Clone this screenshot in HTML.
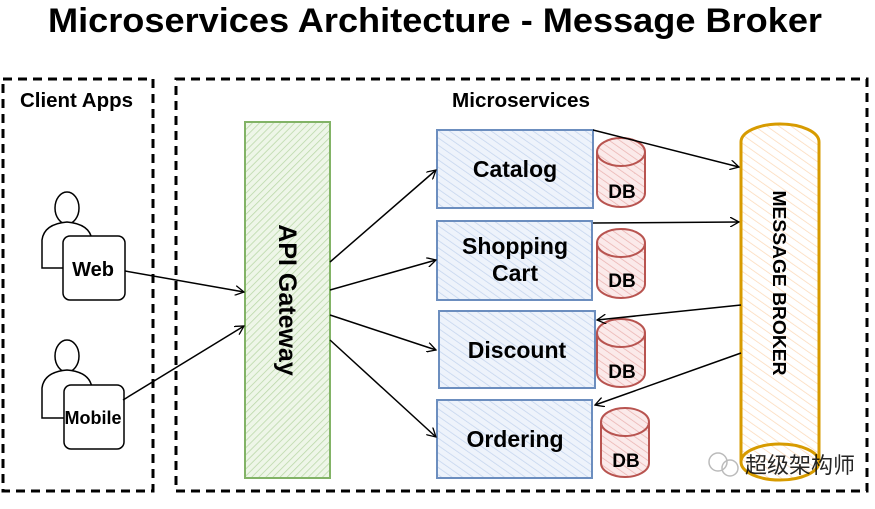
<!DOCTYPE html>
<html><head><meta charset="utf-8"><style>
body{margin:0;background:#fff;width:875px;height:504px;overflow:hidden}
text{font-family:"Liberation Sans",Arial,sans-serif;font-weight:bold;fill:#000}
</style></head><body>
<svg width="875" height="504" viewBox="0 0 875 504" xmlns="http://www.w3.org/2000/svg">
<defs>
<pattern id="hg" patternUnits="userSpaceOnUse" width="5" height="5" patternTransform="rotate(45)"><rect width="5" height="5" fill="#eef6e8"/><line x1="0" y1="0" x2="0" y2="5" stroke="#b9d7a6" stroke-width="1.5"/></pattern>
<pattern id="hb" patternUnits="userSpaceOnUse" width="6" height="6" patternTransform="rotate(-55)"><rect width="6" height="6" fill="#eef3fb"/><line x1="0" y1="0" x2="0" y2="6" stroke="#c3d4ee" stroke-width="1.5"/></pattern>
<pattern id="hr" patternUnits="userSpaceOnUse" width="6" height="6" patternTransform="rotate(-55)"><rect width="6" height="6" fill="#fbeaea"/><line x1="0" y1="0" x2="0" y2="6" stroke="#eab2b0" stroke-width="1.5"/></pattern>
<pattern id="ho" patternUnits="userSpaceOnUse" width="7" height="7" patternTransform="rotate(-55)"><rect width="7" height="7" fill="#fff"/><line x1="0" y1="0" x2="0" y2="7" stroke="#fcd9b8" stroke-width="1.5"/></pattern>
<marker id="ar" markerWidth="10" markerHeight="10" refX="9" refY="5" orient="auto" markerUnits="userSpaceOnUse"><path d="M0,0 L9,5 L0,10" fill="none" stroke="#000" stroke-width="1.3"/></marker>
</defs>
<text x="48" y="32" font-size="34" textLength="774" lengthAdjust="spacingAndGlyphs">Microservices Architecture - Message Broker</text>
<rect x="3" y="79" width="150" height="412" fill="none" stroke="#000" stroke-width="3" stroke-dasharray="9,6"/>
<rect x="176" y="79" width="691" height="412" fill="none" stroke="#000" stroke-width="3" stroke-dasharray="9,6"/>
<text x="20" y="107" font-size="20" textLength="113" lengthAdjust="spacingAndGlyphs">Client Apps</text>
<text x="452" y="107" font-size="20" textLength="138" lengthAdjust="spacingAndGlyphs">Microservices</text>
<rect x="245" y="122" width="85" height="356" fill="url(#hg)" stroke="#82b366" stroke-width="2"/>
<text transform="translate(279,300) rotate(90)" font-size="25" text-anchor="middle">API Gateway</text>
<g fill="#fff" stroke="#000" stroke-width="1.5">
<ellipse cx="67" cy="208" rx="12" ry="16"/>
<path d="M42,268 L42,240 Q44,224 67,222 Q90,224 92,240 L92,268 Z"/>
<rect x="63" y="236" width="62" height="64" rx="7"/>
<ellipse cx="67" cy="356" rx="12" ry="16"/>
<path d="M42,418 L42,388 Q44,372 67,370 Q90,372 92,388 L92,418 Z"/>
<rect x="64" y="385" width="60" height="64" rx="7"/>
</g>
<text x="93" y="276" font-size="20" text-anchor="middle">Web</text>
<text x="93" y="424" font-size="18" text-anchor="middle">Mobile</text>
<g stroke="#6c8ebf" stroke-width="2" fill="url(#hb)">
<rect x="437" y="130" width="156" height="78"/>
<rect x="437" y="221" width="155" height="79"/>
<rect x="439" y="311" width="156" height="77"/>
<rect x="437" y="400" width="155" height="78"/>
</g>
<text x="515" y="177" font-size="23" text-anchor="middle">Catalog</text>
<text x="515" y="254" font-size="23" text-anchor="middle">Shopping</text>
<text x="515" y="281" font-size="23" text-anchor="middle">Cart</text>
<text x="517" y="358" font-size="23" text-anchor="middle">Discount</text>
<text x="515" y="447" font-size="23" text-anchor="middle">Ordering</text>
<g stroke="#b85450" stroke-width="2" fill="url(#hr)">
<path d="M597,152 L597,193 A24,14 0 0 0 645,193 L645,152 A24,14 0 0 0 597,152 Z"/>
<path d="M597,152 A24,14 0 0 0 645,152"/>
<path d="M597,243 L597,284 A24,14 0 0 0 645,284 L645,243 A24,14 0 0 0 597,243 Z"/>
<path d="M597,243 A24,14 0 0 0 645,243"/>
<path d="M597,333 L597,373 A24,14 0 0 0 645,373 L645,333 A24,14 0 0 0 597,333 Z"/>
<path d="M597,333 A24,14 0 0 0 645,333"/>
<path d="M601,422 L601,463 A24,14 0 0 0 649,463 L649,422 A24,14 0 0 0 601,422 Z"/>
<path d="M601,422 A24,14 0 0 0 649,422"/>
</g>
<text x="622" y="198" font-size="19" text-anchor="middle">DB</text>
<text x="622" y="287" font-size="19" text-anchor="middle">DB</text>
<text x="622" y="378" font-size="19" text-anchor="middle">DB</text>
<text x="626" y="467" font-size="19" text-anchor="middle">DB</text>
<path d="M741,142 A39,18 0 0 1 819,142 L819,462 A39,18 0 0 1 741,462 Z" fill="url(#ho)" stroke="#d79b00" stroke-width="3"/>
<path d="M741,462 A39,18 0 0 1 819,462" fill="none" stroke="#d79b00" stroke-width="3"/>
<text transform="translate(773,283) rotate(90)" font-size="18" text-anchor="middle" textLength="185" lengthAdjust="spacingAndGlyphs">MESSAGE BROKER</text>
<g stroke="#000" stroke-width="1.5" fill="none" marker-end="url(#ar)">
<line x1="125" y1="271" x2="244" y2="292"/>
<line x1="123" y1="400" x2="244" y2="326"/>
<line x1="330" y1="262" x2="436" y2="170"/>
<line x1="330" y1="290" x2="436" y2="260"/>
<line x1="330" y1="315" x2="436" y2="350"/>
<line x1="330" y1="340" x2="436" y2="437"/>
<line x1="593" y1="130" x2="739" y2="167"/>
<line x1="593" y1="223" x2="739" y2="222"/>
<line x1="741" y1="305" x2="597" y2="320"/>
<line x1="741" y1="353" x2="595" y2="405"/>
</g>
<text x="745" y="473" font-size="22" style="font-weight:normal;font-family:'Noto Sans CJK SC',sans-serif" fill="#999" opacity="0.85">超级架构师</text>
<circle cx="718" cy="462" r="9" fill="none" stroke="#bbb" stroke-width="1.5"/>
<circle cx="730" cy="468" r="8" fill="none" stroke="#bbb" stroke-width="1.5"/>
</svg>
</body></html>
